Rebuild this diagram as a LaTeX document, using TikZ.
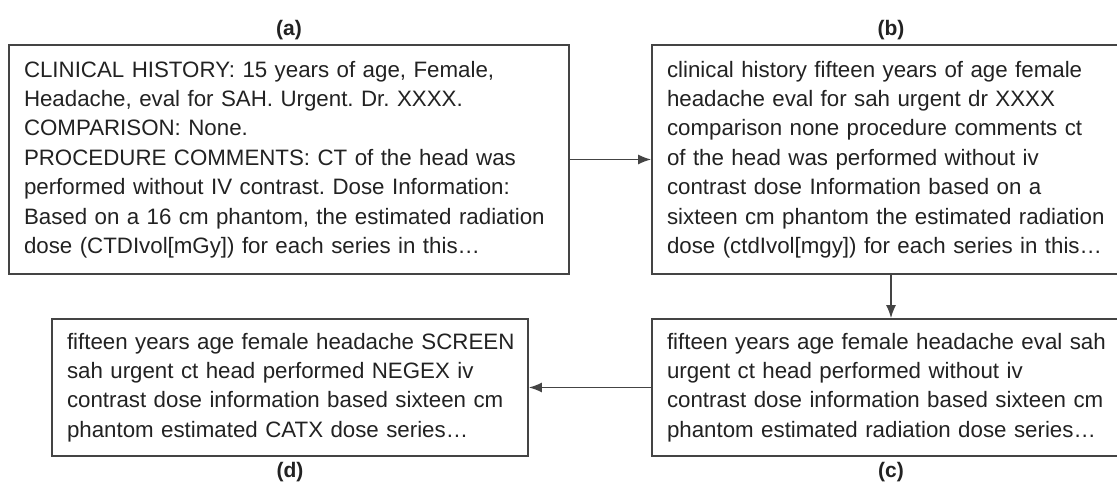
\documentclass[tikz,border=0pt]{standalone}
\usepackage{fontspec}
\setmainfont{Liberation Sans}
\usetikzlibrary{arrows.meta}
\definecolor{linegray}{HTML}{444444}
\definecolor{textgray}{HTML}{222222}
\newcommand{\oneline}[1]{\mbox{#1}}
\frenchspacing
\tikzset{
  textbox/.style={draw=linegray, line width=1.6pt, rectangle, align=left,
    inner xsep=15pt, inner ysep=0pt, text=textgray,
    font=\fontsize{22.3}{29.4}\selectfont},
  panellabel/.style={text=textgray, font=\fontsize{21}{24}\selectfont\bfseries},
  flow/.style={draw=linegray, line width=1.6pt, -{Latex[length=13pt,width=10pt]}}
}
\begin{document}
\begin{tikzpicture}[x=1pt,y=1pt]
\clip (0,0) rectangle (1117,486);
\fill[white] (0,0) rectangle (1117,486);
\node[textbox, minimum width=560pt, minimum height=229pt, text width=530pt] (a) at (289,326.5)
{\oneline{CLINICAL HISTORY: 15 years of age, Female,}\\
\oneline{Headache, eval for SAH. Urgent. Dr. XXXX.}\\
\oneline{COMPARISON: None.}\\
\oneline{PROCEDURE COMMENTS: CT of the head was}\\
\oneline{performed without IV contrast. Dose Information:}\\
\oneline{Based on a 16 cm phantom, the estimated radiation}\\
\oneline{dose (CTDIvol[mGy]) for each series in this\ldots}};
\node[textbox, minimum width=478pt, minimum height=229pt, text width=448pt] (b) at (891,326.5)
{\oneline{clinical history fifteen years of age female}\\
\oneline{headache eval for sah urgent dr XXXX}\\
\oneline{comparison none procedure comments ct}\\
\oneline{of the head was performed without iv}\\
\oneline{contrast dose Information based on a}\\
\oneline{sixteen cm phantom the estimated radiation}\\
\oneline{dose (ctdIvol[mgy]) for each series in this\ldots}};
\node[textbox, minimum width=478pt, minimum height=137pt, text width=448pt] (c) at (891,98.5)
{\oneline{fifteen years age female headache eval sah}\\
\oneline{urgent ct head performed without iv}\\
\oneline{contrast dose information based sixteen cm}\\
\oneline{phantom estimated radiation dose series\ldots}};
\node[textbox, minimum width=476pt, minimum height=137pt, text width=446pt] (d) at (290,98.5)
{\oneline{fifteen years age female headache SCREEN}\\
\oneline{sah urgent ct head performed NEGEX iv}\\
\oneline{contrast dose information based sixteen cm}\\
\oneline{phantom estimated CATX dose series\ldots}};
\node[panellabel] (la) at (289,456) {(a)};
\node[panellabel] (lb) at (891,456) {(b)};
\node[panellabel] (lc) at (891,14) {(c)};
\node[panellabel] (ld) at (290,14) {(d)};
\draw[flow] (a.east) -- (b.west);
\draw[flow] (b.south) -- (c.north);
\draw[flow] (c.west) -- (d.east);
\end{tikzpicture}
\end{document}
